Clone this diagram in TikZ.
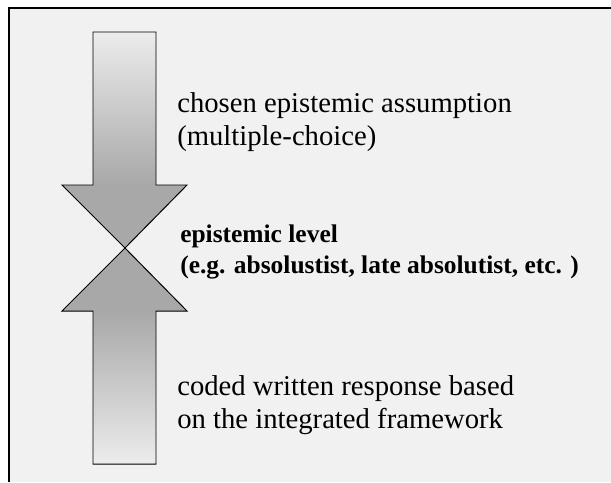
\documentclass[tikz,border=0pt]{standalone}
\usepackage{fontspec}
\setmainfont{Liberation Serif}
\definecolor{panelgray}{RGB}{241,241,241}
\definecolor{headgray}{RGB}{168,168,168}
\definecolor{tailgray}{RGB}{236,236,236}
\pgfdeclareverticalshading{arrowfade}{100bp}{color(0bp)=(headgray); color(39.5bp)=(headgray); color(75bp)=(tailgray); color(100bp)=(tailgray)}
\begin{document}
\begin{tikzpicture}[x=0.25mm, y=0.25mm]
            \tikzstyle{every node}+=[inner sep=0pt]
            \tikzstyle{plain text}=[anchor=base west, align=left, font=\fontsize{20.4}{22.8}\selectfont]
            \tikzstyle{level text}=[anchor=base west, align=left, font=\fontsize{18.1}{22}\selectfont\bfseries]
                \useasboundingbox (0,0) rectangle (611,-482);
                \fill [white] (0,0) rectangle (611,-482);
                \fill [panelgray] (9,-8) rectangle (611,-482);
                \draw [black, line width=1.2pt] (9,-482) -- (9,-8) -- (611,-8);
                % down arrow
                \draw [black, line width=0.7pt, shading=arrowfade] (93,-32) -- (156,-32) -- (156,-185) -- (187,-185) -- (125,-248) -- (62,-185) -- (93,-185) -- cycle;
                % up arrow
                \draw [black, line width=0.7pt, shading=arrowfade, shading angle=180] (125,-248) -- (187,-311) -- (156,-311) -- (156,-464) -- (93,-464) -- (93,-311) -- (62,-311) -- cycle;
                \node (chosen) [plain text] at (177,-145) {chosen epistemic assumption\\(multiple-choice)};
                \node (level) [level text] at (180,-273) {epistemic level\\(e.g. absolustist, late absolutist, etc. )};
                \node (coded) [plain text] at (177,-428) {coded written response based\\on the integrated framework};
            \end{tikzpicture}
\end{document}
